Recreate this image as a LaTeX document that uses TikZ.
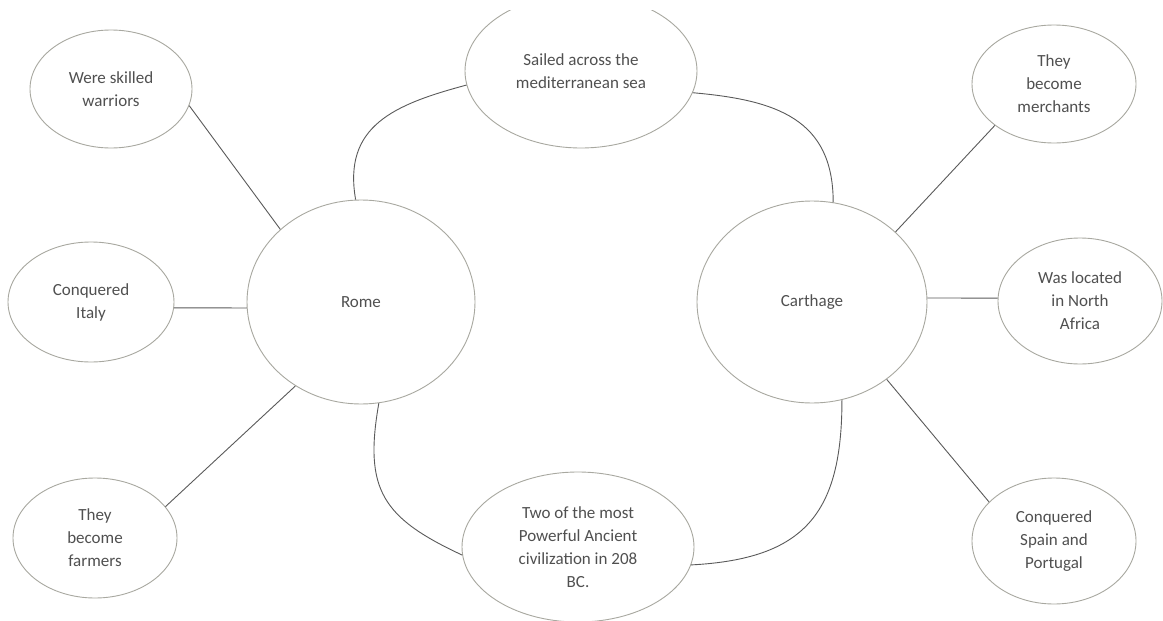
\documentclass[tikz,border=0pt]{standalone}
\usepackage{fontspec}
\setmainfont{Carlito}
\usetikzlibrary{shapes.geometric}
\definecolor{rimgray}{HTML}{A8A8A0}
\definecolor{wiregray}{HTML}{5A5A5A}
\definecolor{inkgray}{HTML}{505050}
\tikzset{
  bubble/.style={ellipse, draw=rimgray, line width=0.9pt, inner sep=0pt,
    align=center, text=inkgray, font=\fontsize{17}{23}\selectfont},
  link/.style={draw=wiregray, line width=0.9pt},
}
\begin{document}
\begin{tikzpicture}[x=1pt,y=1pt]
\useasboundingbox (0,-621) rectangle (1163,0);
\fill[white] (0,-621) rectangle (1163,0);
\clip (0,-621) rectangle (1163,-10);

% left side: Rome and its facts
\node[bubble, minimum width=228pt, minimum height=204pt] (rome) at (361,-302) {Rome};
\node[bubble, minimum width=162pt, minimum height=118pt] (warriors) at (111,-89) {Were skilled\\warriors};
\node[bubble, minimum width=166pt, minimum height=120pt] (italy) at (91,-302) {Conquered\\Italy};
\node[bubble, minimum width=164pt, minimum height=120pt] (farmers) at (95,-538) {They\\become\\farmers};

% right side: Carthage and its facts
\node[bubble, minimum width=230pt, minimum height=202pt] (carthage) at (812,-302) {Carthage};
\node[bubble, minimum width=164pt, minimum height=118pt] (merchants) at (1054,-84) {They\\become\\merchants};
\node[bubble, minimum width=164pt, minimum height=126pt] (africa) at (1080,-301) {Was located\\in North\\Africa};
\node[bubble, minimum width=164pt, minimum height=126pt] (spain) at (1054,-541) {Conquered\\Spain and\\Portugal};

% shared facts
\node[bubble, minimum width=232pt, minimum height=154pt] (sea) at (581,-71) {Sailed across the\\mediterranean sea};
\node[bubble, minimum width=232pt, minimum height=150pt] (power) at (578,-547) {Two of the most\\Powerful Ancient\\civilization in 208\\BC.};

% straight spokes
\draw[link] (warriors.-12) -- (rome.138);
\draw[link] (italy.-4) -- (rome.183);
\draw[link] (farmers.24) -- (rome.232);
\draw[link] (carthage.40) -- (merchants.215);
\draw[link] (carthage.2) -- (africa.178);
\draw[link] (carthage.-46) -- (spain.149);

% curved links through the shared facts
\draw[link] (rome.93) to[out=100, in=195, looseness=1.2] (sea.187);
\draw[link] (sea.-11) to[out=-5, in=90, looseness=1.2] (carthage.78);
\draw[link] (rome.-80) to[out=-100, in=155, looseness=1.3] (power.184);
\draw[link] (power.-9) to[out=3, in=-90, looseness=1.3] (carthage.-73);
\end{tikzpicture}
\end{document}
